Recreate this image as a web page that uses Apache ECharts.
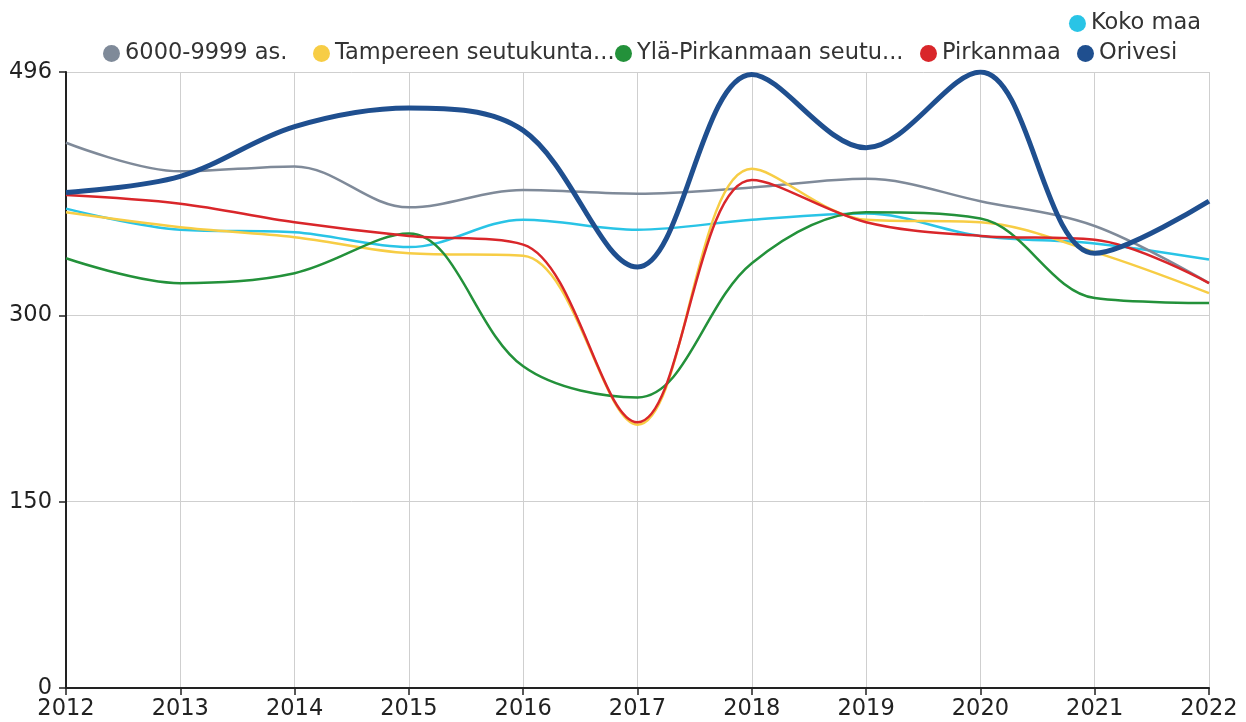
<!DOCTYPE html>
<html>
<head>
<meta charset="utf-8">
<script src="https://cdn.jsdelivr.net/npm/echarts@6/dist/echarts.min.js"></script>
<style>
  html, body { margin: 0; padding: 0; background: #fff; }
  #chart { width: 1246px; height: 722px; }
</style>
</head>
<body>
<div id="chart"></div>
<script>
const years = ['2012', '2013', '2014', '2015', '2016', '2017', '2018', '2019', '2020', '2021', '2022'];
const yTicks = [0, 150, 300, 496];

const kokoMaa = [386, 369, 367, 355, 377, 369, 377, 382, 364, 358, 345];
const koko6000 = [439, 416, 420, 387, 401, 398, 403, 410, 392, 372, 326];
const tampereen = [383, 371, 363, 350, 348, 212, 418, 377, 375, 351, 318];
const ylaPirkanmaa = [346, 326, 334, 366, 259, 234, 342, 383, 378, 314, 310];
const pirkanmaa = [397, 390, 375, 364, 357, 214, 409, 375, 364, 361, 326];
const orivesi = [399, 412, 452, 467, 449, 339, 494, 435, 496, 350, 392];

const font = 'DejaVu Sans';
const fs = 22.5;

function line(name, data, color, width) {
  return {
    name: name,
    type: 'line',
    data: data,
    smooth: 0.35,
    showSymbol: false,
    color: color,
    lineStyle: { color: color, width: width },
    emphasis: { disabled: true }
  };
}

// one legend per item so each sits where the original put it
function legendItem(name, pos) {
  return Object.assign({
    data: [name],
    icon: 'circle',
    itemWidth: 17,
    itemHeight: 17,
    formatter: function (n) {
      return n.length > 20 ? n.slice(0, 20) + '...' : n;
    },
    textStyle: { fontFamily: font, fontSize: fs, color: '#333' }
  }, pos);
}

const chart = echarts.init(document.getElementById('chart'));
chart.setOption({
  animation: false,
  textStyle: { fontFamily: font },
  legend: [
    legendItem('Koko maa', { right: 40, top: 7 }),
    legendItem('6000-9999 as.', { left: 98, top: 37 }),
    legendItem('Tampereen seutukunta (Pirkanmaa)', { left: 308, top: 37 }),
    legendItem('Ylä-Pirkanmaan seutukunta', { left: 610, top: 37 }),
    legendItem('Pirkanmaa', { left: 915, top: 37 }),
    legendItem('Orivesi', { left: 1072, top: 37 })
  ],
  grid: { left: 66, right: 37, top: 72, bottom: 34 },
  xAxis: {
    type: 'category',
    data: years,
    boundaryGap: false,
    axisLine: { lineStyle: { color: '#222', width: 2 } },
    axisTick: { show: true, length: 7, lineStyle: { color: '#222', width: 1.5 } },
    axisLabel: { color: '#222', fontSize: fs, margin: 10, fontFamily: font },
    splitLine: { show: true, lineStyle: { color: '#cfcfcf', width: 1 } }
  },
  yAxis: {
    type: 'value',
    min: 0,
    max: 496,
    axisLine: { show: true, lineStyle: { color: '#222', width: 2 } },
    axisTick: { show: true, length: 7, customValues: yTicks, lineStyle: { color: '#222', width: 1.5 } },
    axisLabel: { color: '#222', fontSize: fs, margin: 14, customValues: yTicks, fontFamily: font },
    splitLine: { show: true, lineStyle: { color: '#cfcfcf', width: 1 } }
  },
  series: [
    line('Koko maa', kokoMaa, '#29c4e6', 2.5),
    line('6000-9999 as.', koko6000, '#7f8a99', 2.5),
    line('Tampereen seutukunta (Pirkanmaa)', tampereen, '#f7cd45', 2.5),
    line('Ylä-Pirkanmaan seutukunta', ylaPirkanmaa, '#23913a', 2.5),
    line('Pirkanmaa', pirkanmaa, '#d9262a', 2.5),
    line('Orivesi', orivesi, '#1f4f8f', 5)
  ]
});
</script>
</body>
</html>
